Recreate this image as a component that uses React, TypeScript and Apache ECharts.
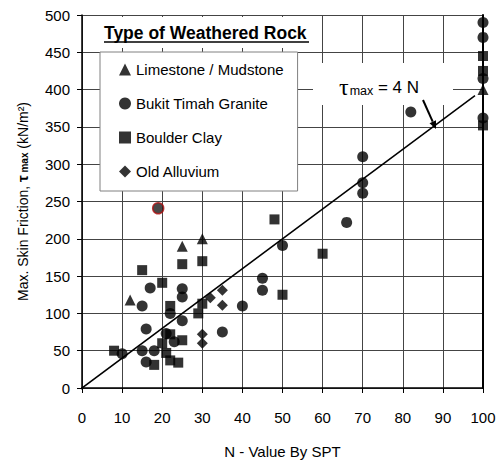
import React, { useEffect, useRef } from "react";
import * as echarts from "echarts";

const xTicks = { min: 0, max: 100, interval: 10 };
const yTicks = { min: 0, max: 500, interval: 50 };

const seriesNames = ["Limestone / Mudstone", "Bukit Timah Granite", "Boulder Clay", "Old Alluvium"];

const limestone = [[12, 118], [25, 190], [30, 200], [100, 400]];
const granite = [
  [10, 46], [15, 50], [15, 110], [16, 79], [16, 35], [17, 134], [18, 50], [21, 73], [22, 100], [23, 62],
  [25, 133], [25, 122], [25, 90], [35, 75], [40, 110], [45, 147], [45, 131], [50, 191], [66, 222],
  [70, 310], [70, 275], [70, 261], [82, 370], [100, 490], [100, 470], [100, 415], [100, 362],
];
const boulder = [
  [8, 50], [15, 158], [18, 31], [20, 141], [20, 60], [21, 47], [22, 110], [22, 37], [24, 34], [22, 72],
  [25, 166], [25, 64], [30, 170], [30, 113], [29, 100], [48, 226], [50, 125], [60, 180],
  [100, 445], [100, 425], [100, 352],
];
const alluvium = [[30, 72], [30, 60], [32, 121], [35, 131], [35, 111]];
const outlier = [[19, 241]];
const fitLine = [[-1.4, -5.6], [98, 392]];

const FONT = "Liberation Sans";

export default function App() {
  const ref = useRef<HTMLDivElement>(null);
  useEffect(() => {
    if (!ref.current) return;
    const chart = echarts.init(ref.current, null, { renderer: "svg" });
    const scatter = (name: string, data: number[][], symbol: string, size: number) => ({
      name,
      type: "scatter",
      data,
      symbol,
      symbolSize: size,
      clip: false,
      itemStyle: { color: "#000" },
      z: 5,
    });
    chart.setOption({
      animation: false,
      backgroundColor: "#fff",
      title: {
        text: "Type of Weathered Rock",
        left: 104,
        top: 24,
        padding: 0,
        textStyle: { fontFamily: FONT, fontSize: 17.5, fontWeight: "bold", color: "#000" },
        z: 10,
      },
      grid: { left: 82, right: 16, top: 15, bottom: 78 },
      legend: {
        orient: "vertical",
        left: 100,
        top: 52,
        padding: [10, 14, 12, 19],
        itemGap: 19,
        itemWidth: 12,
        itemHeight: 12,
        backgroundColor: "#fff",
        borderColor: "#808080",
        borderWidth: 1,
        borderRadius: 0,
        selectedMode: false,
        textStyle: { fontFamily: FONT, fontSize: 15, color: "#000" },
        data: seriesNames,
      },
      xAxis: {
        type: "value",
        min: xTicks.min,
        max: xTicks.max,
        interval: xTicks.interval,
        name: "N - Value By SPT",
        nameLocation: "middle",
        nameGap: 56,
        nameTextStyle: { fontFamily: FONT, fontSize: 15, color: "#000" },
        axisLine: { onZero: false, lineStyle: { color: "#000", width: 1.5 } },
        axisTick: { show: true, length: 5, lineStyle: { color: "#000" } },
        axisLabel: { fontFamily: FONT, fontSize: 15, color: "#000", margin: 22 },
        splitLine: { show: true, lineStyle: { color: "#444", width: 1 } },
      },
      yAxis: [
        {
          type: "value",
          min: yTicks.min,
          max: yTicks.max,
          interval: yTicks.interval,
          name: "Max. Skin Friction, {b|τ}{s| max} (kN/m²)",
          nameLocation: "middle",
          nameRotate: 90,
          nameGap: 52,
          nameTextStyle: {
            fontFamily: FONT,
            fontSize: 14,
            color: "#000",
            rich: {
              b: { fontFamily: FONT, fontSize: 15, fontWeight: "bold", color: "#000" },
              s: { fontFamily: FONT, fontSize: 10, fontWeight: "bold", color: "#000", padding: [4, 0, 0, 0] },
            },
          },
          axisLine: { show: true, onZero: false, lineStyle: { color: "#000", width: 1.5 } },
          axisTick: { show: true, length: 5, lineStyle: { color: "#000" } },
          axisLabel: { fontFamily: FONT, fontSize: 15, color: "#000", margin: 12 },
          splitLine: { show: true, lineStyle: { color: "#444", width: 1 } },
        },
        {
          type: "value",
          position: "right",
          min: yTicks.min,
          max: yTicks.max,
          interval: yTicks.interval,
          axisLine: { show: true, onZero: false, lineStyle: { color: "#000", width: 2 } },
          axisTick: { show: false },
          axisLabel: { show: false },
          splitLine: { show: false },
        },
      ],
      graphic: [
        { type: "rect", shape: { x: 100, y: 17, width: 212, height: 31 }, style: { fill: "#fff" }, z: 1 },
        { type: "line", shape: { x1: 104, y1: 42, x2: 309, y2: 42 }, style: { stroke: "#000", lineWidth: 1.5 }, z: 11 },
        { type: "rect", shape: { x: 313, y: 63, width: 140, height: 42 }, style: { fill: "#fff" }, z: 1 },
        {
          type: "text",
          x: 339,
          y: 87,
          z: 11,
          style: {
            text: "{t|τ}{m|max}{e| = 4 N}",
            verticalAlign: "middle",
            rich: {
              t: { fontFamily: "Liberation Serif", fontSize: 24, fill: "#000" },
              m: { fontFamily: FONT, fontSize: 12.5, fill: "#000", padding: [8, 0, 0, 1] },
              e: { fontFamily: FONT, fontSize: 17, fill: "#000" },
            },
          },
        },
        { type: "line", shape: { x1: 423, y1: 100, x2: 432.7, y2: 121.7 }, style: { stroke: "#000", lineWidth: 2 }, z: 11 },
        {
          type: "polygon",
          shape: { points: [[436, 129], [429.5, 123.2], [436, 120.3]] },
          style: { fill: "#000" },
          z: 11,
        },
      ],
      series: [
        {
          name: "fit",
          type: "line",
          data: fitLine,
          symbol: "none",
          clip: false,
          lineStyle: { color: "#000", width: 1.5 },
          z: 4,
        },
        scatter(seriesNames[0], limestone, "triangle", 11),
        scatter(seriesNames[1], granite, "circle", 11),
        scatter(seriesNames[2], boulder, "rect", 10),
        scatter(seriesNames[3], alluvium, "diamond", 11),
        {
          name: "outlier",
          type: "scatter",
          data: outlier,
          symbol: "circle",
          symbolSize: 11,
          clip: false,
          itemStyle: { color: "#1a1a1a", borderColor: "#b01010", borderWidth: 1.5 },
          z: 5,
        },
      ],
    });
    return () => chart.dispose();
  }, []);
  return <div ref={ref} style={{ position: "fixed", left: 0, top: 0, width: 499, height: 466 }} />;
}
